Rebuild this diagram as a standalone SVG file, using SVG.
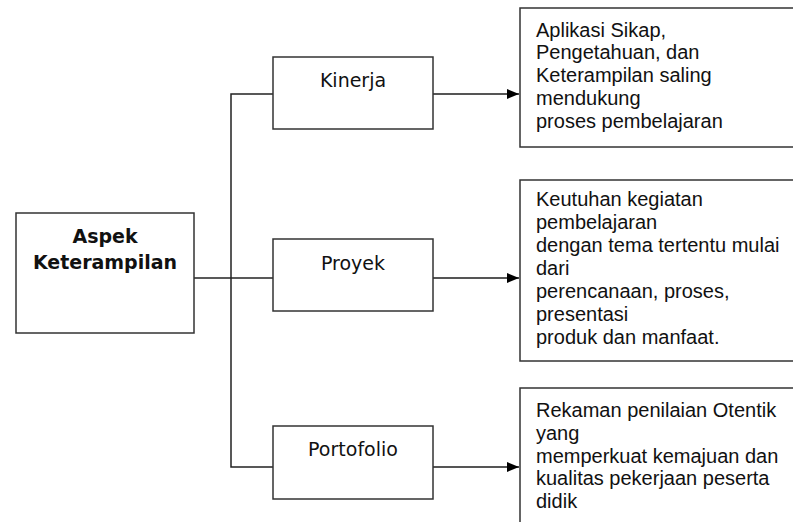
<svg xmlns="http://www.w3.org/2000/svg" width="793" height="522" viewBox="0 0 793 522">
<style>
.box{fill:#fff;stroke:#333;stroke-width:1.5}
.lbl{font-family:"DejaVu Sans",Verdana,sans-serif;font-size:19px;fill:#111;text-anchor:middle}
.bold{font-weight:bold}
.desc{font-family:"Liberation Sans",Arial,sans-serif;font-size:20px;fill:#111}
.ln{fill:none;stroke:#222;stroke-width:1.5}
.arr{fill:none;stroke:#555;stroke-width:2;marker-end:url(#ah)}
</style>
<defs>
<marker id="ah" viewBox="0 0 12 10" refX="12" refY="5" markerWidth="12" markerHeight="10" markerUnits="userSpaceOnUse" orient="auto">
<path d="M0,0 L12,5 L0,10 Z" fill="#000"/>
</marker>
</defs>
<rect width="793" height="522" fill="#fff"/>
<g id="connectors">
<path class="ln" d="M194,278 H273"/>
<path class="ln" d="M273,94 H231 V467 H273"/>
<path class="arr" d="M433,94 H519"/>
<path class="arr" d="M433,278 H519"/>
<path class="arr" d="M433,467 H519"/>
</g>
<g id="aspek">
<rect class="box" x="16" y="213" width="178" height="120"/>
<text class="lbl bold" x="105" y="243">Aspek</text>
<text class="lbl bold" x="105" y="269">Keterampilan</text>
</g>
<g id="kinerja">
<rect class="box" x="273" y="57" width="160" height="72"/>
<text class="lbl" x="353" y="87">Kinerja</text>
</g>
<g id="proyek">
<rect class="box" x="273" y="239" width="160" height="72"/>
<text class="lbl" x="353" y="270">Proyek</text>
</g>
<g id="portofolio">
<rect class="box" x="273" y="426" width="160" height="73"/>
<text class="lbl" x="353" y="456">Portofolio</text>
</g>
<g id="desc-kinerja">
<rect class="box" x="520" y="8" width="290" height="139"/>
<text class="desc" x="536" y="36.5">Aplikasi Sikap,</text>
<text class="desc" x="536" y="59.3">Pengetahuan, dan</text>
<text class="desc" x="536" y="82">Keterampilan saling</text>
<text class="desc" x="536" y="104.8">mendukung</text>
<text class="desc" x="536" y="127.6">proses pembelajaran</text>
</g>
<g id="desc-proyek">
<rect class="box" x="520" y="180" width="290" height="181"/>
<text class="desc" x="536" y="206">Keutuhan kegiatan</text>
<text class="desc" x="536" y="229">pembelajaran</text>
<text class="desc" x="536" y="252">dengan tema tertentu mulai</text>
<text class="desc" x="536" y="275">dari</text>
<text class="desc" x="536" y="298">perencanaan, proses,</text>
<text class="desc" x="536" y="321">presentasi</text>
<text class="desc" x="536" y="344">produk dan manfaat.</text>
</g>
<g id="desc-portofolio">
<rect class="box" x="520" y="388" width="290" height="150"/>
<text class="desc" x="536" y="417">Rekaman penilaian Otentik</text>
<text class="desc" x="536" y="440">yang</text>
<text class="desc" x="536" y="462.5">memperkuat kemajuan dan</text>
<text class="desc" x="536" y="485">kualitas pekerjaan peserta</text>
<text class="desc" x="536" y="508">didik</text>
</g>
</svg>
